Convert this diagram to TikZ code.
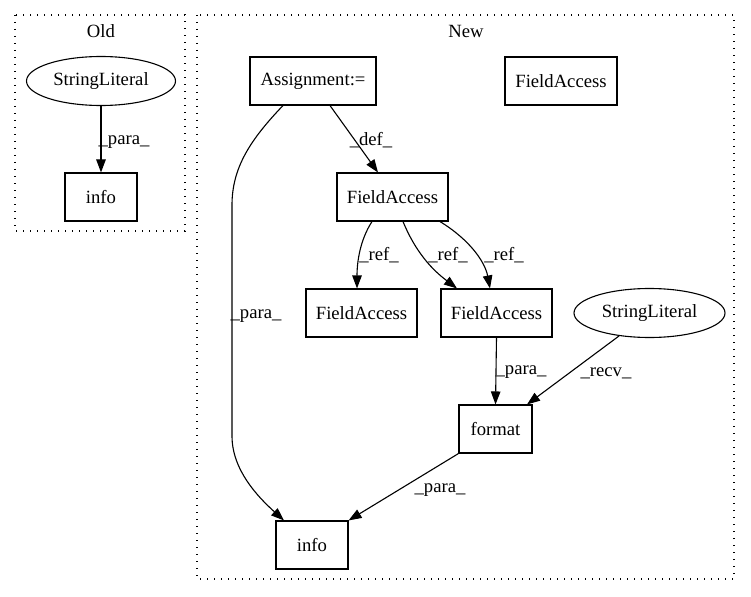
\documentclass[tikz,border=0pt]{standalone}
\usepackage{fontspec}
\setmainfont{Liberation Serif}
\usetikzlibrary{arrows.meta,shapes.geometric}
\begin{document}
\begin{tikzpicture}[x=1pt,y=-1pt,
  every node/.style={font=\fontsize{18.67}{22}\selectfont, inner sep=0pt},
  box/.style={draw, line width=1.1pt, rectangle, minimum height=48pt},
  lit/.style={draw, line width=1.1pt, ellipse, minimum width=149pt, minimum height=49pt},
  cluster/.style={draw, line width=1.2pt, dash pattern=on 1.4pt off 5.6pt},
  edge/.style={draw, line width=1.1pt, -{Triangle[length=13pt,width=9.5pt]}},
  lbl/.style={fill=none}
]
\useasboundingbox (0,0) rectangle (751,596);
% clusters
\draw[cluster] (15,15) rectangle (185,231);
\draw[cluster] (197,15) rectangle (734,579);
\node (told) at (101,31) {Old};
\node (tnew) at (466,31) {New};
% old nodes
\node[lit] (sl1) at (101,81) {StringLiteral};
\node[box, minimum width=72pt] (info1) at (101,197) {info};
% new nodes
\node[box, minimum width=126pt] (assign) at (313,81) {Assignment:=};
\node[box, minimum width=112pt] (fatr) at (561,81) {FieldAccess};
\node[box, minimum width=111pt] (famid) at (392.5,197) {FieldAccess};
\node[box, minimum width=111pt] (fall) at (361.5,313) {FieldAccess};
\node[box, minimum width=111pt] (falr) at (496.5,313) {FieldAccess};
\node[lit, minimum width=151pt] (sl2) at (649.5,313) {StringLiteral};
\node[box, minimum width=73pt] (format) at (495.5,429) {format};
\node[box, minimum width=72pt] (info2) at (312,545) {info};
% edges old
\draw[edge] (sl1.south) -- (info1.north);
\node[lbl] (l0) at (124,142) {\_para\_};
% edges new
\draw[edge] ([xshift=17pt]assign.south) -- ([xshift=-14.5pt]famid.north);
\node[lbl] (l1) at (371,140) {\_def\_};
\draw[edge] ([xshift=-30pt]assign.south) .. controls (250,140) and (232,168) .. (232,205)
  -- (232,436) .. controls (232,470) and (258,497) .. ([xshift=-28pt]info2.north);
\node[lbl] (l2) at (256,316) {\_para\_};
\draw[edge] ([xshift=-20.5pt]famid.south) .. controls (360,240) and (357,262) .. ([xshift=-4.5pt]fall.north);
\node[lbl] (l3) at (379,255) {\_ref\_};
\draw[edge] ([xshift=10.5pt]famid.south) .. controls (418,258) and (438,274) .. ([xshift=-39.5pt]falr.north);
\node[lbl] (l4) at (448,255) {\_ref\_};
\draw[edge] ([xshift=47.5pt]famid.south) .. controls (470,240) and (485,262) .. ([xshift=-6.5pt]falr.north);
\node[lbl] (l5) at (504,255) {\_ref\_};
\draw[edge] (falr.south) -- (format.north);
\node[lbl] (l6) at (521,372) {\_para\_};
\draw[edge] (sl2.217) -- ([xshift=31.5pt]format.north);
\node[lbl] (l7) at (606,373) {\_recv\_};
\draw[edge] (format.south west) -- (info2.north east);
\node[lbl] (l8) at (440,490) {\_para\_};
\end{tikzpicture}
\end{document}
